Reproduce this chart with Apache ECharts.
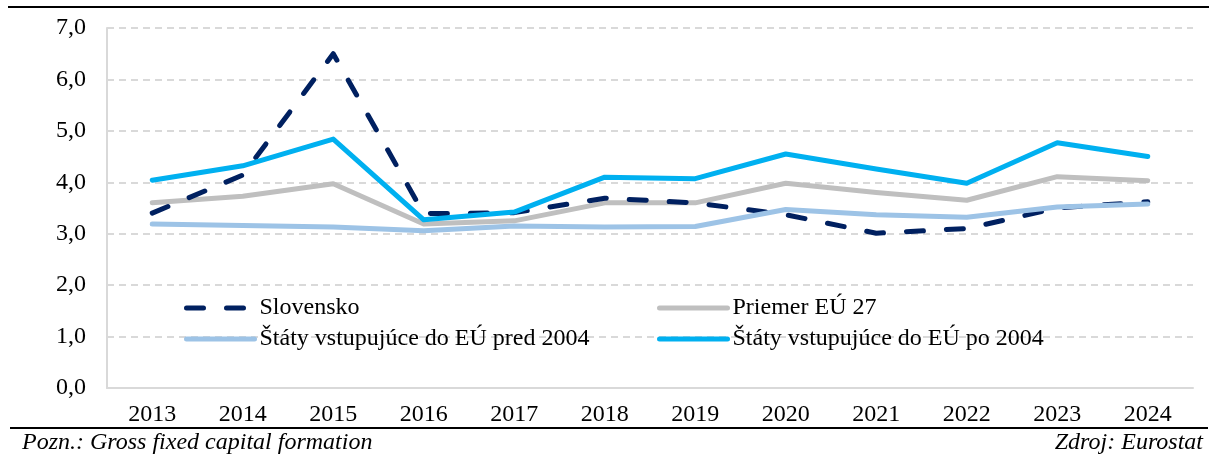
<!DOCTYPE html>
<html>
<head>
<meta charset="utf-8">
<script src="https://cdn.jsdelivr.net/npm/echarts@6/dist/echarts.min.js"></script>
<style>
  html, body { margin: 0; padding: 0; background: #fff; }
  #chart { width: 1209px; height: 455px; }
</style>
</head>
<body>
<div id="chart"></div>
<script>
const years = ['2013', '2014', '2015', '2016', '2017', '2018', '2019', '2020', '2021', '2022', '2023', '2024'];
const slovensko = [3.40, 4.14, 6.50, 3.39, 3.41, 3.69, 3.60, 3.37, 3.01, 3.10, 3.50, 3.62];
const priemerEU = [3.60, 3.73, 3.97, 3.19, 3.25, 3.60, 3.60, 3.98, 3.80, 3.65, 4.11, 4.03];
const pred2004 = [3.19, 3.16, 3.13, 3.06, 3.15, 3.13, 3.14, 3.47, 3.37, 3.32, 3.52, 3.58];
const po2004 = [4.04, 4.32, 4.84, 3.27, 3.42, 4.10, 4.07, 4.55, 4.26, 3.98, 4.77, 4.50];

const names = ['Slovensko', 'Priemer EÚ 27', 'Štáty vstupujúce do EÚ pred 2004', 'Štáty vstupujúce do EÚ po 2004'];
const colors = ['#002060', '#bfbfbf', '#9dc3e6', '#00b0f0'];
const slovakDash = [17, 23];

const font = "'Liberation Serif', 'Times New Roman', serif";
const chart = echarts.init(document.getElementById('chart'), null, { renderer: 'canvas' });

// one legend per item so the two columns line up like in the source
function legendAt(i, left, top) {
    return {
        data: [names[i]],
        left: left,
        top: top,
        itemWidth: 68,
        itemHeight: 14,
        padding: 0,
        selectedMode: false,
        itemStyle: { opacity: 0 }, // hide the symbol, keep only the line
        lineStyle: {
            color: colors[i], width: 5, cap: 'round',
            type: i === 0 ? slovakDash : 'solid'
        },
        textStyle: { fontFamily: font, fontSize: 24, color: '#000' }
    };
}

const option = {
    animation: false,
    grid: { left: 107, right: 16, top: 28, bottom: 67 },
    legend: [
        legendAt(0, 184, 296),
        legendAt(1, 657, 296),
        legendAt(2, 184, 327),
        legendAt(3, 657, 327)
    ],
    xAxis: {
        type: 'category',
        data: years,
        boundaryGap: true,
        axisTick: { show: false },
        axisLine: { show: true, lineStyle: { color: '#d9d9d9', width: 2 } },
        axisLabel: { color: '#000', fontFamily: font, fontSize: 24, margin: 15 }
    },
    yAxis: {
        type: 'value',
        min: 0,
        max: 7,
        interval: 1,
        axisLine: { show: true, lineStyle: { color: '#d9d9d9', width: 2 } },
        axisTick: { show: false },
        splitLine: { lineStyle: { color: '#d9d9d9', width: 2, type: [7, 5] } },
        axisLabel: {
            color: '#000', fontFamily: font, fontSize: 24, margin: 21,
            formatter: v => v.toFixed(1).replace('.', ',')
        }
    },
    series: [
        {
            name: names[1], type: 'line', data: priemerEU, symbol: 'none', z: 2,
            lineStyle: { color: colors[1], width: 5, cap: 'round', join: 'round' },
            itemStyle: { color: colors[1] }
        },
        {
            name: names[0], type: 'line', data: slovensko, symbol: 'none', z: 3,
            lineStyle: { color: colors[0], width: 5, type: slovakDash, cap: 'round', join: 'round' },
            itemStyle: { color: colors[0] }
        },
        {
            name: names[2], type: 'line', data: pred2004, symbol: 'none', z: 4,
            lineStyle: { color: colors[2], width: 5, cap: 'round', join: 'round' },
            itemStyle: { color: colors[2] }
        },
        {
            name: names[3], type: 'line', data: po2004, symbol: 'none', z: 5,
            lineStyle: { color: colors[3], width: 5, cap: 'round', join: 'round' },
            itemStyle: { color: colors[3] }
        }
    ],
    graphic: [
        { type: 'line', shape: { x1: 8, y1: 7, x2: 1209, y2: 7 }, style: { stroke: '#000', lineWidth: 2 } },
        { type: 'line', shape: { x1: 10, y1: 428, x2: 1208, y2: 428 }, style: { stroke: '#000', lineWidth: 2 } },
        {
            type: 'text', left: 22, top: 431,
            style: { text: 'Pozn.: Gross fixed capital formation', fill: '#000', font: 'italic 24px ' + font }
        },
        {
            type: 'text', right: 6, top: 431,
            style: { text: 'Zdroj: Eurostat', fill: '#000', font: 'italic 24px ' + font }
        }
    ]
};

chart.setOption(option);
</script>
</body>
</html>
